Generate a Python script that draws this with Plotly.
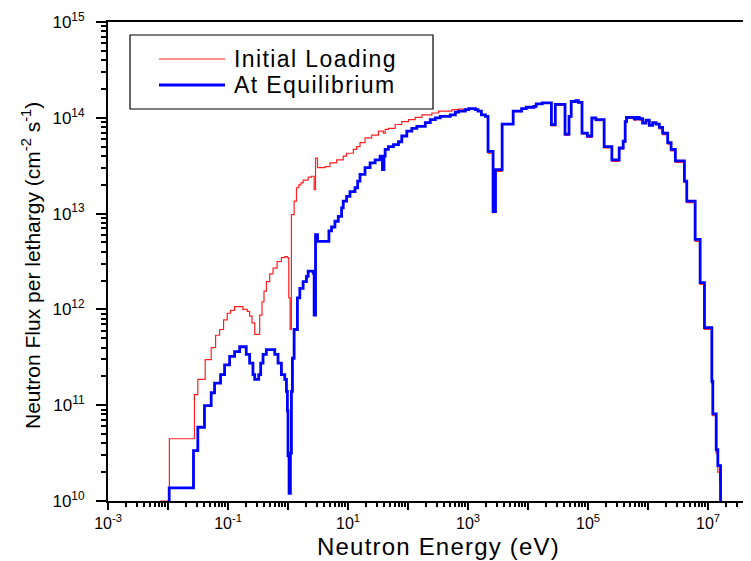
import plotly.graph_objects as go

# ---- data (log10 of energy in eV, log10 of flux per lethargy) ----
# step points: value holds from this energy up to the next one
blue_logE = [-2.3, -1.98, -1.575, -1.503, -1.392, -1.28, -1.224, -1.124, -1.057, -0.973,
             -0.89, -0.806, -0.696, -0.64, -0.584, -0.555, -0.488, -0.455, -0.416, -0.361,
             -0.221, -0.166, -0.11, -0.054, -0.026, -0.01, 0.0, 0.018, 0.04, 0.057,
             0.074, 0.102, 0.157, 0.197, 0.252, 0.308, 0.336, 0.42, 0.436, 0.459,
             0.492, 0.682, 0.726, 0.782, 0.838, 0.893, 0.921, 0.977, 1.033, 1.117,
             1.161, 1.2, 1.284, 1.368, 1.452, 1.535, 1.574, 1.60, 1.619, 1.674,
             1.758, 1.841, 1.896, 1.98, 2.064, 2.147, 2.288, 2.371, 2.455, 2.538,
             2.705, 2.789, 2.844, 2.957, 3.012, 3.124, 3.167, 3.224, 3.291, 3.334,
             3.418, 3.458, 3.569, 3.753, 3.893, 3.97, 4.099, 4.137, 4.238, 4.39,
             4.455, 4.617, 4.684, 4.72, 4.796, 4.84, 4.9, 4.99, 5.063, 5.13,
             5.269, 5.398, 5.52, 5.587, 5.62, 5.642, 5.771, 5.81, 5.855, 5.91,
             5.966, 6.022, 6.077, 6.134, 6.189, 6.244, 6.328, 6.385, 6.456, 6.607,
             6.646, 6.786, 6.869, 6.941, 7.064, 7.08, 7.137, 7.164, 7.209, 7.4]
blue_logF = [9.0, 10.136, 10.525, 10.77, 10.995, 11.13, 11.23, 11.32, 11.42, 11.51,
             11.56, 11.61, 11.53, 11.44, 11.32, 11.27, 11.32, 11.44, 11.53, 11.58,
             11.53, 11.44, 11.32, 11.27, 11.145, 10.94, 10.47, 10.08, 10.5, 11.145,
             11.49, 11.79, 12.12, 12.22, 12.29, 12.345, 12.40, 12.38, 11.94, 12.78,
             12.71, 12.82, 12.86, 12.92, 12.97, 13.06, 13.13, 13.18, 13.23, 13.27,
             13.34, 13.41, 13.48, 13.53, 13.56, 13.60, 13.46, 13.60, 13.67, 13.70,
             13.72, 13.75, 13.81, 13.86, 13.89, 13.91, 13.95, 13.98, 14.0, 14.015,
             14.03, 14.06, 14.07, 14.085, 14.095, 14.085, 14.07, 14.03, 14.015, 13.65,
             13.02, 13.46, 13.935, 14.07, 14.095, 14.11, 14.12, 14.145, 14.155, 13.93,
             14.14, 13.83, 14.015, 14.17, 14.18, 14.16, 13.84, 13.81, 14.0, 13.98,
             13.70, 13.56, 13.685, 13.755, 13.96, 14.005, 13.99, 14.005, 13.99, 13.945,
             13.975, 13.92, 13.95, 13.935, 13.90, 13.84, 13.74, 13.67, 13.55, 13.34,
             13.13, 12.73, 12.28, 11.81, 11.25, 10.91, 10.535, 10.37, 9.0, 9.0]

red_logE = [-2.3, -2.12, -1.977, -1.559, -1.503, -1.38, -1.28, -1.207, -1.14, -1.074,
            -1.013, -0.957, -0.89, -0.751, -0.679, -0.64, -0.6, -0.555, -0.472, -0.433,
            -0.4, -0.36, -0.305, -0.249, -0.182, -0.11, -0.053, -0.01, 0.013, 0.035,
            0.057, 0.102, 0.141, 0.18, 0.214, 0.252, 0.336, 0.391, 0.436, 0.459,
            0.492, 0.615, 0.699, 0.81, 0.921, 0.977, 1.089, 1.144, 1.2, 1.284,
            1.395, 1.507, 1.59, 1.62, 1.674, 1.786, 1.896, 2.008, 2.12, 2.231,
            2.398, 2.51, 2.733, 2.844, 3.124, 3.167, 3.224, 3.291, 3.334, 3.418,
            3.458, 3.569, 3.753, 3.893, 3.97, 4.099, 4.137, 4.238, 4.39, 4.455,
            4.617, 4.684, 4.72, 4.796, 4.84, 4.9, 4.99, 5.063, 5.13, 5.269,
            5.398, 5.52, 5.587, 5.62, 5.642, 5.771, 5.81, 5.855, 5.91, 5.966,
            6.022, 6.077, 6.134, 6.189, 6.244, 6.328, 6.385, 6.456, 6.607, 6.646,
            6.786, 6.869, 6.941, 7.064, 7.08, 7.137, 7.164, 7.195, 7.209, 7.4]
red_logF = [9.0, 10.0, 10.65, 11.11, 11.27, 11.475, 11.60, 11.73, 11.79, 11.89,
            11.96, 11.99, 12.03, 12.0, 11.98, 11.93, 11.86, 11.74, 11.94, 12.08,
            12.19, 12.29, 12.37, 12.43, 12.50, 12.54, 12.55, 12.54, 12.12, 11.79,
            12.99, 13.13, 13.27, 13.30, 13.32, 13.35, 13.38, 13.39, 13.25, 13.58,
            13.48, 13.49, 13.53, 13.56, 13.60, 13.63, 13.67, 13.70, 13.74, 13.79,
            13.82, 13.86, 13.84, 13.88, 13.89, 13.93, 13.96, 13.98, 14.005, 14.03,
            14.05, 14.07, 14.085, 14.09, 14.085, 14.07, 14.03, 14.015, 13.63, 13.01,
            13.44, 13.93, 14.065, 14.09, 14.105, 14.115, 14.14, 14.15, 13.915, 14.13,
            13.815, 14.005, 14.165, 14.175, 14.155, 13.83, 13.795, 13.99, 13.97, 13.685,
            13.545, 13.675, 13.745, 13.97, 13.995, 13.975, 13.995, 13.975, 13.945, 13.965,
            13.925, 13.95, 13.935, 13.885, 13.825, 13.725, 13.655, 13.535, 13.325, 13.115,
            12.71, 12.26, 11.79, 11.23, 10.89, 10.5, 10.3, 10.2, 9.0, 9.0]

series_names = ["Initial Loading", "At Equilibrium"]
x_tick_exps = list(range(-3, 9))
y_tick_exps = list(range(10, 16))

# ---- layout constants (pixels) ----
W, H = 751, 561
ML, MT, MB = 100, 14, 68
PW = W - ML
PH = H - MT - MB
PX_PER_DECADE = 60.0
FONT = "Liberation Sans, Arial, sans-serif"

def px_x(p):
    return (p - ML) / PW

def px_y(p):
    return (H - MB - p) / PH

def spaced(t, sp):
    return '<span style="letter-spacing:%.1fpx">%s</span>' % (sp, t)

fig = go.Figure()
fig.add_trace(go.Scatter(x=[10 ** v for v in red_logE], y=[10 ** v for v in red_logF],
                         mode="lines", line=dict(color="#ff2020", width=1.2, shape="hv"),
                         name=series_names[0], showlegend=False))
fig.add_trace(go.Scatter(x=[10 ** v for v in blue_logE], y=[10 ** v for v in blue_logF],
                         mode="lines", line=dict(color="#0000ff", width=2.8, shape="hv"),
                         name=series_names[1], showlegend=False))

xt_vals = [10.0 ** e for e in x_tick_exps]
xt_text = [("10<sup>%d</sup>" % e) if e % 2 != 0 else "" for e in x_tick_exps]
yt_vals = [10.0 ** e for e in y_tick_exps]
yt_text = ["10<sup>%d</sup>" % e for e in y_tick_exps]

common = dict(type="log", tickmode="array", ticks="outside", tickwidth=2,
              tickcolor="black", showline=True, linecolor="black", linewidth=2,
              showgrid=False, zeroline=False)
fig.update_xaxes(range=[-3, -3 + PW / PX_PER_DECADE], tickvals=xt_vals, ticktext=xt_text,
                 mirror=True, ticklen=7,
                 minor=dict(dtick="D1", ticks="outside", ticklen=4, tickwidth=1.5,
                            tickcolor="black", showgrid=False),
                 tickfont=dict(family=FONT, size=16, color="black"), **common)
fig.update_yaxes(range=[10, 15], tickvals=yt_vals, ticktext=yt_text, mirror=False,
                 ticklen=10, ticklabelstandoff=8,
                 minor=dict(dtick="D1", ticks="outside", ticklen=5, tickwidth=1.5,
                            tickcolor="black", showgrid=False),
                 tickfont=dict(family=FONT, size=17, color="black"), **common)

# legend drawn as a framed box
colors = ["#ff2020", "#0000ff"]
widths = [1.2, 2.8]
shapes = [dict(type="rect", xref="paper", yref="paper", x0=px_x(122), x1=px_x(425),
               y0=px_y(101), y1=px_y(27), line=dict(color="black", width=1.2),
               fillcolor="white", layer="above")]
annotations = []
for i, yy in enumerate([51, 77]):
    shapes.append(dict(type="line", xref="paper", yref="paper", x0=px_x(151), x1=px_x(217),
                       y0=px_y(yy), y1=px_y(yy), line=dict(color=colors[i], width=widths[i]),
                       layer="above"))
    annotations.append(dict(xref="paper", yref="paper", x=px_x(224), y=px_y(yy),
                            text=spaced(series_names[i], 1.4), showarrow=False,
                            xanchor="left", yanchor="middle",
                            font=dict(family=FONT, size=23, color="black")))

annotations.append(dict(xref="paper", yref="paper", x=px_x(23), y=px_y(258),
                        text="Neutron Flux per lethargy (cm<sup>-2</sup> s<sup>-1</sup>)",
                        textangle=-90, showarrow=False, xanchor="center", yanchor="middle",
                        font=dict(family=FONT, size=21, color="black")))
annotations.append(dict(xref="paper", yref="paper", x=px_x(430), y=px_y(538),
                        text=spaced("Neutron Energy (eV)", 1.2), showarrow=False,
                        xanchor="center", yanchor="middle",
                        font=dict(family=FONT, size=24, color="black")))

fig.update_layout(width=W, height=H, margin=dict(l=ML, r=0, t=MT, b=MB),
                  paper_bgcolor="white", plot_bgcolor="white", showlegend=False,
                  shapes=shapes, annotations=annotations,
                  font=dict(family=FONT, color="black"))

fig.write_html("out.html")
